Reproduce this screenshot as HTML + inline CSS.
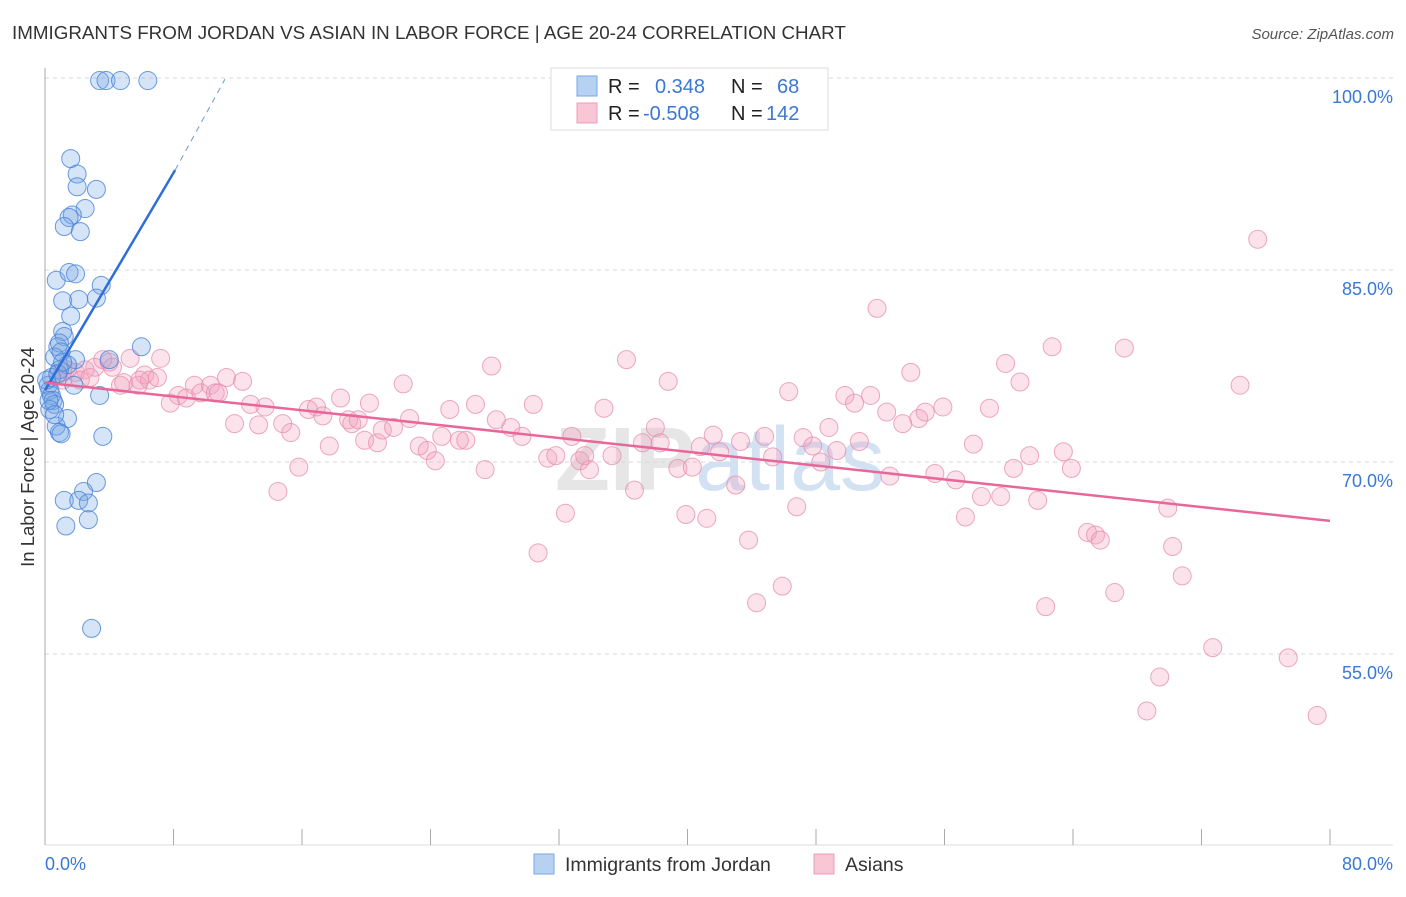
<!DOCTYPE html>
<html><head><meta charset="utf-8"><style>
body{margin:0;background:#fff;font-family:"Liberation Sans",sans-serif}
</style></head><body>
<svg id="chart" width="1406" height="892" xmlns="http://www.w3.org/2000/svg" style="font-family:'Liberation Sans',sans-serif">
<text x="12" y="39" font-size="18.8" fill="#333">IMMIGRANTS FROM JORDAN VS ASIAN IN LABOR FORCE | AGE 20-24 CORRELATION CHART</text>
<text x="1394" y="39" font-size="15" fill="#555" text-anchor="end" font-style="italic">Source: ZipAtlas.com</text>
<text x="720" y="490" font-size="90" fill="#e6e6e6" text-anchor="middle" font-weight="bold">ZIP<tspan fill="#d3e2f3" font-weight="normal">atlas</tspan></text>
<g id="grid"></g><g id="axes"></g><g id="pts"></g><g id="lines"></g>
<text transform="translate(34,457) rotate(-90)" font-size="18.5" fill="#333" text-anchor="middle">In Labor Force | Age 20-24</text>
<g>
<rect x="551" y="68" width="277" height="62" fill="#fff" stroke="#ddd"/>
<rect x="577" y="76" width="20" height="20" fill="#b7d1f3" stroke="#7aa6e6"/>
<rect x="577" y="103" width="20" height="20" fill="#f8c6d4" stroke="#ec9fb8"/>
<text x="608" y="93" font-size="20" fill="#222">R = <tspan fill="#3a78d6" x="655">0.348</tspan><tspan fill="#222" x="731">N =</tspan><tspan fill="#3a78d6" x="777">68</tspan></text>
<text x="608" y="120" font-size="20" fill="#222">R = <tspan fill="#3a78d6" x="643">-0.508</tspan><tspan fill="#222" x="731">N = </tspan><tspan fill="#3a78d6" x="766">142</tspan></text>
</g>
<g>
<rect x="534" y="854" width="20" height="20" fill="#b7d1f3" stroke="#7aa6e6"/>
<text x="565" y="871" font-size="19.5" fill="#333">Immigrants from Jordan</text>
<rect x="814" y="854" width="20" height="20" fill="#f8c6d4" stroke="#ec9fb8"/>
<text x="845" y="871" font-size="19.5" fill="#333">Asians</text>
</g>
</svg>
<script>
const blueX=[3.4,3.8,4.7,6.4,1.6,2.0,2.0,3.2,2.5,1.7,1.5,1.2,2.2,0.7,1.5,1.9,1.1,2.1,3.5,3.2,1.6,1.1,1.2,0.8,0.9,6.0,0.6,1.0,4.0,1.9,1.4,0.9,0.4,1.8,0.2,0.3,0.4,3.4,0.5,0.6,0.3,1.4,0.7,0.9,3.6,1.0,1.2,3.2,2.4,2.1,2.7,1.3,2.7,2.9,0.1,0.25,0.6,0.8,1.1];
const blueY=[99.8,99.8,99.8,99.8,93.7,92.5,91.5,91.3,89.8,89.3,89.1,88.4,88.0,84.2,84.8,84.7,82.6,82.7,83.8,82.8,81.4,80.2,79.8,79.0,79.3,79.0,78.2,78.6,78.0,78.0,77.6,77.2,76.6,76.0,76.0,75.6,75.2,75.2,74.8,74.5,74.1,73.4,72.8,72.3,72.0,72.2,67.0,68.4,67.7,67.0,66.8,65.0,65.5,57.0,76.4,74.8,73.7,76.9,77.8];
const pinkX=[0.8,1.1,1.4,1.9,2.5,3.1,3.6,4.2,4.7,5.3,5.8,6.2,6.5,7.0,7.2,7.8,8.3,8.8,9.3,9.7,10.3,10.6,10.8,11.3,11.8,12.3,12.8,13.3,13.7,14.5,14.8,15.3,15.8,16.4,16.9,17.3,17.7,18.4,18.9,19.1,19.5,19.9,20.2,20.7,21.0,21.7,22.3,22.7,23.3,23.8,24.3,24.7,25.2,25.8,26.2,26.8,27.4,27.8,28.1,29.0,29.7,30.4,30.7,31.3,31.8,32.4,32.8,33.3,33.6,33.9,34.8,35.3,36.2,36.7,37.2,38.0,38.3,38.8,39.4,39.9,40.3,40.8,41.2,41.6,42.0,43.0,43.3,43.8,44.3,44.8,45.3,45.9,46.3,46.8,47.2,47.8,48.3,48.8,49.3,49.8,50.4,50.7,51.4,51.8,52.4,52.6,53.4,53.9,54.4,54.8,55.4,55.9,56.7,57.3,57.8,58.3,58.8,59.5,59.8,60.3,60.7,61.3,61.8,62.3,62.7,63.4,63.9,64.9,65.4,65.7,66.6,67.2,68.6,69.4,69.9,70.2,70.8,72.7,74.4,75.5,77.4,79.2,1.1,2.2,2.8,4.0,4.9,5.9];
const pinkY=[76.8,76.4,77.2,77.0,77.2,77.4,78.0,77.4,76.0,78.1,76.0,76.8,76.4,76.6,78.1,74.6,75.2,75.0,76.0,75.4,76.0,75.4,75.4,76.6,73.0,76.3,74.5,72.9,74.3,67.7,73.0,72.3,69.6,74.1,74.3,73.6,71.25,75.0,73.3,73.0,73.3,71.7,74.6,71.5,72.5,72.7,76.1,73.4,71.25,70.9,70.1,72.0,74.1,71.7,71.7,74.5,69.4,77.5,73.3,72.7,72.0,74.5,62.9,70.3,70.5,66.0,72.0,70.1,70.5,69.4,74.2,70.5,78.0,67.8,71.5,72.7,71.5,76.3,69.5,65.9,69.6,71.2,65.6,72.1,70.8,68.2,71.6,63.9,59.0,72.0,70.4,60.3,75.5,66.5,71.9,71.25,70.0,72.7,70.9,75.2,74.6,71.6,75.2,82.0,73.9,68.9,73.0,77.0,73.4,73.9,69.1,74.3,68.6,65.7,71.4,67.3,74.2,67.3,77.7,69.5,76.25,70.5,67.0,58.7,79.0,70.8,69.5,64.5,64.3,63.9,59.8,78.9,50.55,53.2,66.4,63.4,61.1,55.5,76.0,87.4,54.7,50.2,77.0,76.4,76.6,77.8,76.2,76.4];
const yTicks=[100,85,70,55];
const xTickVals=[0,8,16,24,32,40,48,56,64,72,80];
const blueTrend=[[0,75.6],[8.1,92.8],[11.2,99.9]];
const pinkTrend=[[0,76.2],[80,65.4]];
const NS="http://www.w3.org/2000/svg";
const sx=v=>45+v*(1330-45)/80;
const sy=v=>78+(100-v)*12.8;
function mk(tag,attrs,parent){const e=document.createElementNS(NS,tag);for(const k in attrs)e.setAttribute(k,attrs[k]);document.getElementById(parent).appendChild(e);return e;}
yTicks.forEach(t=>{
  const l=mk('line',{x1:45,x2:1393,y1:sy(t),y2:sy(t),stroke:'#d8d8d8','stroke-dasharray':'4,4'},'grid');
  
  
  const tx=mk('text',{x:1393,y:sy(t)+25,'font-size':18,fill:'#3a78d6','text-anchor':'end'},'grid');
  tx.textContent=t.toFixed(1)+'%';
  
  
});
let a=mk('line',{x1:45,x2:45,y1:68,y2:845,stroke:'#aaa'},'axes');


a=mk('line',{x1:45,x2:1393,y1:845,y2:845,stroke:'#ddd'},'axes');


xTickVals.forEach(t=>{
  const l=mk('line',{x1:sx(t),x2:sx(t),y1:829,y2:845,stroke:'#aaa'},'axes');
  
  
});
[[0,'0.0%','start',45],[80,'80.0%','end',1393]].forEach(d=>{
  const tx=mk('text',{x:d[3],y:870,'font-size':18,fill:'#3a78d6','text-anchor':d[2]},'axes');
  tx.textContent=d[1];
  
  
});
pinkX.forEach((x,i)=>{
  const c=mk('circle',{cx:sx(x),cy:sy(pinkY[i]),r:9,fill:'rgba(242,160,188,0.3)',stroke:'rgba(230,140,172,0.75)','stroke-width':1},'pts');
  
  
});
blueX.forEach((x,i)=>{
  const c=mk('circle',{cx:sx(x),cy:sy(blueY[i]),r:9,fill:'rgba(120,165,230,0.3)',stroke:'rgba(70,130,215,0.8)','stroke-width':1},'pts');
  
  
});
let l=mk('line',{x1:sx(blueTrend[0][0]),y1:sy(blueTrend[0][1]),x2:sx(blueTrend[1][0]),y2:sy(blueTrend[1][1]),stroke:'#2d6fd6','stroke-width':2.5},'lines');


l=mk('line',{x1:sx(blueTrend[1][0]),y1:sy(blueTrend[1][1]),x2:sx(blueTrend[2][0]),y2:sy(blueTrend[2][1]),stroke:'#6a9ae0','stroke-width':1,'stroke-dasharray':'6,5'},'lines');


l=mk('line',{x1:sx(pinkTrend[0][0]),y1:sy(pinkTrend[0][1]),x2:sx(pinkTrend[1][0]),y2:sy(pinkTrend[1][1]),stroke:'#e8679a','stroke-width':2.5},'lines');


</script>
</body></html>
